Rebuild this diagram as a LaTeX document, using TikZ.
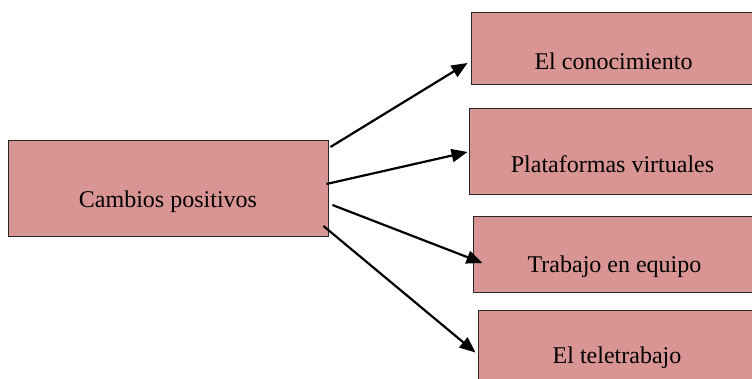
\documentclass[tikz,border=0pt]{standalone}
\usepackage{fontspec}
\setmainfont{Liberation Serif}
\usetikzlibrary{arrows.meta,calc}
\definecolor{boxpink}{HTML}{D99594}
\tikzset{
	pinkbox/.style={draw=black!85, line width=0.45pt, fill=boxpink, inner sep=0pt},
	link/.style={line width=1.1pt, -{Triangle[length=8pt, width=6.5pt]}},
}
\begin{document}
\begin{tikzpicture}[x=0.5pt, y=-0.5pt, font=\fontsize{12}{14}\selectfont]
		\useasboundingbox (0, 0) rectangle (752, 379);
		\clip (0, 0) rectangle (752, 379);

		% left box
		\node[pinkbox, minimum width=160pt, minimum height=48pt,
			label={[anchor=center, yshift=-7pt]center:Cambios positivos}] (cambios) at (168, 188) {};

		% right boxes
		\node[pinkbox, minimum width=142.5pt, minimum height=36pt,
			label={[anchor=center, yshift=-6.5pt]center:El conocimiento}] (conocimiento) at (613.5, 48) {};
		\node[pinkbox, minimum width=143.5pt, minimum height=43pt,
			label={[anchor=center, yshift=-6.5pt]center:Plataformas virtuales}] (plataformas) at (612.5, 151) {};
		\node[pinkbox, minimum width=141.5pt, minimum height=38pt,
			label={[anchor=center, yshift=-6.5pt]center:Trabajo en equipo}] (equipo) at (614.5, 254) {};
		\node[pinkbox, minimum width=139pt, minimum height=37pt,
			label={[anchor=center, yshift=-5.5pt]center:El teletrabajo}] (teletrabajo) at (617, 347) {};

		% arrows
		\draw[link] ($(cambios.east)+(2, -41)$) -- ($(conocimiento.west)+(-3, 15)$);
		\draw[link] ($(cambios.east)+(-2, -4)$) -- ($(plataformas.west)+(-1, 1)$);
		\draw[link] ($(cambios.east)+(4, 17)$) -- ($(equipo.west)+(10, 9)$);
		\draw[link] ($(cambios.east)+(-5, 38)$) -- ($(teletrabajo.north west)+(-2, 43)$);
	\end{tikzpicture}
\end{document}
